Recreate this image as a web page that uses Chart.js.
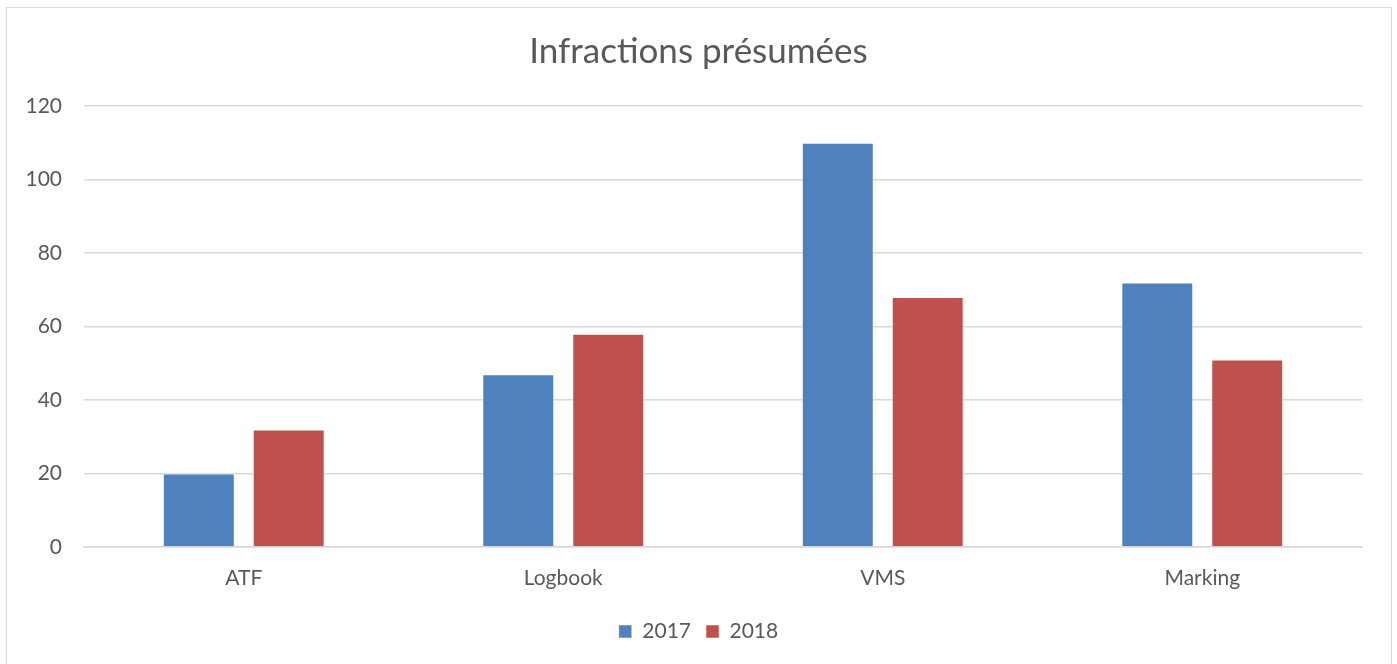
<!DOCTYPE html>
<html>
<head>
<meta charset="utf-8">
<script src="https://cdn.jsdelivr.net/npm/chart.js@4"></script>
<style>
    html, body { margin: 0; padding: 0; background: #ffffff; }
    #wrap { position: relative; width: 1397px; height: 664px; overflow: hidden; }
    #frame { position: absolute; left: 6px; top: 7px; width: 1386px; height: 670px; border: 1.5px solid #d9d9d9; box-sizing: border-box; }
    canvas { position: absolute; left: 0; top: 0; }
</style>
</head>
<body>
<div id="wrap">
    <div id="frame"></div>
    <canvas id="chart" width="1397" height="664"></canvas>
</div>
<script>
// Chart data
const categories = ['ATF', 'Logbook', 'VMS', 'Marking'];
const values2017 = [20, 47, 110, 72];
const values2018 = [32, 58, 68, 51];
const yTicks = [0, 20, 40, 60, 80, 100, 120];

const textColor = '#595959';
const fontFamily = 'Lato, "Open Sans", sans-serif';

const ctx = document.getElementById('chart').getContext('2d');

new Chart(ctx, {
    type: 'bar',
    data: {
        labels: categories,
        datasets: [
            {
                label: '2017',
                data: values2017,
                backgroundColor: '#4f81bd',
                borderColor: 'rgba(255,255,255,0.5)',
                borderWidth: 1
            },
            {
                label: '2018',
                data: values2018,
                backgroundColor: '#c0504d',
                borderColor: 'rgba(255,255,255,0.5)',
                borderWidth: 1
            }
        ]
    },
    options: {
        responsive: false,
        animation: false,
        layout: {
            // symmetric side padding so title and legend centre on the frame
            padding: { top: 14, right: 17.5, bottom: 12, left: 17.5 }
        },
        datasets: {
            bar: {
                categoryPercentage: 0.563,
                barPercentage: 0.8
            }
        },
        plugins: {
            title: {
                display: true,
                text: 'Infractions présumées',
                color: textColor,
                font: { family: fontFamily, size: 35, weight: 'normal' },
                padding: { top: 17, bottom: 33 }
            },
            legend: {
                position: 'bottom',
                labels: {
                    color: textColor,
                    font: { family: fontFamily, size: 21 },
                    boxWidth: 13,
                    boxHeight: 13,
                    padding: 15
                }
            },
            tooltip: { enabled: false }
        },
        scales: {
            x: {
                grid: { display: false },
                border: { color: '#d9d9d9', width: 1.5 },
                ticks: {
                    color: textColor,
                    font: { family: fontFamily, size: 21 },
                    padding: 11
                },
                afterFit: function(scale) { scale.height = 59; }
            },
            y: {
                min: 0,
                max: 120,
                afterBuildTicks: function(scale) {
                    scale.ticks = yTicks.map(v => ({ value: v }));
                },
                grid: { color: '#d9d9d9', lineWidth: 1.5, drawTicks: false },
                border: { display: false },
                ticks: {
                    color: textColor,
                    font: { family: fontFamily, size: 21 },
                    padding: 22
                },
                afterFit: function(scale) { scale.width = 66.5; }
            },
            // empty spacer on the right so the plot ends where the reference does
            spacer: {
                type: 'linear',
                position: 'right',
                grid: { display: false },
                border: { display: false },
                ticks: { display: false },
                afterFit: function(scale) { scale.width = 17.5; }
            }
        }
    }
});
</script>
</body>
</html>
